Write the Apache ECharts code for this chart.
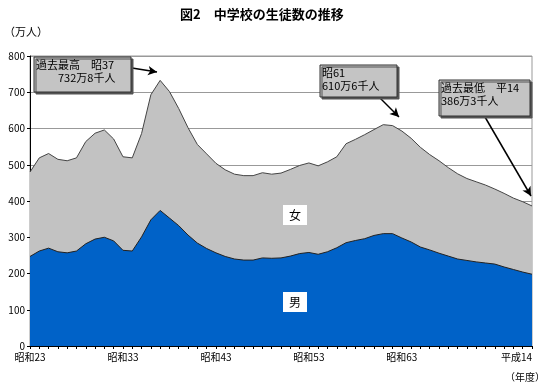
<!DOCTYPE html>
<html><head><meta charset="utf-8">
<script src="https://cdn.jsdelivr.net/npm/echarts@6/dist/echarts.min.js"></script>
<style>html,body{margin:0;padding:0;background:#fff}#c{width:550px;height:392px}</style>
</head><body><div id="c"></div>
<script>
var categories = ['昭和23','昭和24','昭和25','昭和26','昭和27','昭和28','昭和29','昭和30','昭和31','昭和32',
 '昭和33','昭和34','昭和35','昭和36','昭和37','昭和38','昭和39','昭和40','昭和41','昭和42',
 '昭和43','昭和44','昭和45','昭和46','昭和47','昭和48','昭和49','昭和50','昭和51','昭和52',
 '昭和53','昭和54','昭和55','昭和56','昭和57','昭和58','昭和59','昭和60','昭和61','昭和62',
 '昭和63','平成1','平成2','平成3','平成4','平成5','平成6','平成7','平成8','平成9',
 '平成10','平成11','平成12','平成13','平成14'];
var shownLabelIdx = [0,10,20,30,40,54];
var totalValues = [480,519,531,515,511,519,564,587,596,571,522,519,586,693,732.8,702,655,602,556,530,
 504,486,474,470,470,478,474,477,487,498,505,497,508,522,558,570,583,597,610.6,608,
 593,573,548,528,511,492,475,462,453,444,433,421,408,398,386.3];
var maleValues = [247,262,270,260,257,262,282,295,300,290,264,262,301,348,374,353,332,306,284,269,
 257,247,240,237,237,243,242,243,248,255,258,253,260,271,285,291,296,305,310,310,
 298,287,273,265,256,248,240,236,232,229,226,218,211,204,198];
var yTicks = {min:0, max:800, interval:100};
var notes = [
  {l1:'過去最高　昭37', l2:'　　732万8千人'},
  {l1:'昭61', l2:'610万6千人'},
  {l1:'過去最低　平14', l2:'386万3千人'}
];

var FONT = '"Noto Sans CJK JP", "Noto Sans", sans-serif';
var chart = echarts.init(document.getElementById('c'), null, {renderer:'canvas'});

function box(x,y,w,h,n){
  return [
    {type:'rect', shape:{x:x,y:y,width:w,height:h}, z:100,
     style:{fill:'#c4c4c4', stroke:'#333', lineWidth:1, shadowColor:'#555', shadowOffsetX:2, shadowOffsetY:2, shadowBlur:0}},
    {type:'text', x:x+2, y:y+1, z:101, style:{text:n.l1+'\n'+n.l2, font:'11px '+FONT, fill:'#000', lineHeight:13}}
  ];
}
var g = [].concat(
  box(34,57,97,35,notes[0]),
  box(320,65,77,32,notes[1]),
  box(439,80,91,36,notes[2]),
  [
   {type:'text', left:180, top:8, style:{text:'図2　中学校の生徒数の推移', font:'bold 13px '+FONT, fill:'#000'}},
   {type:'text', left:4, top:26, style:{text:'（万人）', font:'11px '+FONT, fill:'#000'}},
   {type:'text', left:505, top:372, style:{text:'（年度）', font:'10px '+FONT, fill:'#000'}},
   {type:'text', x:283, y:205, z:50, style:{text:'女', font:'12px '+FONT, fill:'#000', backgroundColor:'#fff', padding:[4,6,4,6]}},
   {type:'text', x:283, y:292, z:50, style:{text:'男', font:'12px '+FONT, fill:'#000', backgroundColor:'#fff', padding:[4,6,4,6]}}
  ]);

chart.setOption({
  animation:false,
  textStyle:{fontFamily:FONT},
  grid:{left:30, right:18, top:56, bottom:46, show:true, borderColor:'#999', borderWidth:1},
  xAxis:{type:'category', data:categories, boundaryGap:false,
    axisLine:{lineStyle:{color:'#000', width:1}},
    axisTick:{show:true, interval:0, length:3, lineStyle:{color:'#000'}},
    axisLabel:{interval:function(i){return shownLabelIdx.indexOf(i)>=0;}, fontSize:10, color:'#000', margin:6, fontFamily:FONT, alignMaxLabel:'right'},
    splitLine:{show:false}},
  yAxis:{type:'value', min:yTicks.min, max:yTicks.max, interval:yTicks.interval,
    axisLine:{show:true, lineStyle:{color:'#000'}},
    axisTick:{show:true, length:3, lineStyle:{color:'#000'}},
    axisLabel:{fontSize:10, color:'#000', margin:5, fontFamily:FONT},
    splitLine:{lineStyle:{color:'#999', width:1}}},
  series:[
    {name:'女', type:'line', data:totalValues, showSymbol:false, symbol:'none',
     lineStyle:{color:'#444', width:1}, areaStyle:{color:'#c2c2c2', opacity:1}, z:2,
     markLine:{silent:true, symbol:['none','arrow'], symbolSize:[7,9], label:{show:false},
       lineStyle:{color:'#000', width:1.5, type:'solid'},
       data:[
         [{x:132,y:68},{x:157,y:72}],
         [{x:380,y:98},{x:399,y:117}],
         [{x:485,y:117},{x:531,y:196}]
       ]}},
    {name:'男', type:'line', data:maleValues, showSymbol:false, symbol:'none',
     lineStyle:{color:'#222', width:1}, areaStyle:{color:'#0062c8', opacity:1}, z:3}
  ],
  graphic:g
});
</script></body></html>
